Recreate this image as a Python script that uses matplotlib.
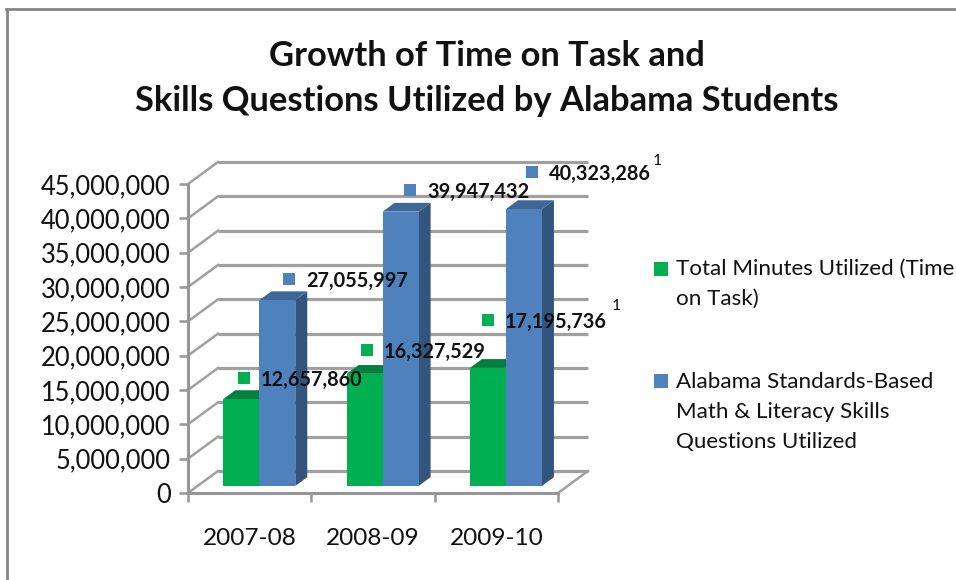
import matplotlib
matplotlib.use("Agg")
import matplotlib.pyplot as plt
from matplotlib.lines import Line2D
from matplotlib.patches import Polygon

plt.rcParams["font.family"] = ["Lato", "DejaVu Sans"]

W, H = 956, 580

# data
years = ["2007-08", "2008-09", "2009-10"]
minutes = [12657860, 16327529, 17195736]
questions = [27055997, 39947432, 40323286]
y_ticks = list(range(0, 45000001, 5000000))
legend_minutes = ["Total Minutes Utilized (Time", "on Task)"]
legend_questions = ["Alabama Standards-Based", "Math & Literacy Skills", "Questions Utilized"]

# colours
GREEN = "#00AF50"
GREEN_TOP = "#03803F"
BLUE = "#4F81BD"
BLUE_TOP = "#3F6797"
BLUE_SIDE = "#32547D"
GRID = "#A0A0A0"


def px_x(x):
    return x / W


def px_y(y):
    return 1 - y / H


fig = plt.figure(figsize=(W / 100, H / 100), dpi=100)
ax = fig.add_axes([188 / W, 1 - 493 / H, 370 / W, 309 / H])
ax.set_xlim(-0.5, 2.5)
ax.set_ylim(0, 45000000)
ax.patch.set_alpha(0)

# depth of the fake 3d box, in data units
depth_x = 30 / (370 / 3)
depth_y = 22 / (309 / 45000000)


def project(x, v, d):
    return (x + d * depth_x, v + d * depth_y)


# back wall and side wall gridlines
for t in y_ticks:
    back_l = project(-0.5, t, 1)
    back_r = project(2.5, t, 1)
    ax.plot([back_l[0], back_r[0]], [back_l[1], back_r[1]], color=GRID, lw=2.3,
            clip_on=False, zorder=1, solid_capstyle="butt")
    ax.plot([-0.5, back_l[0]], [t, back_l[1]], color=GRID, lw=1.8, clip_on=False, zorder=1)
ax.plot([2.5, project(2.5, 0, 1)[0]], [0, project(2.5, 0, 1)[1]], color=GRID, lw=1.8,
        clip_on=False, zorder=1)


def bar3d(x0, x1, v, front, top, side, z):
    d0, d1 = 0.32, 0.72
    face = [project(x0, 0, d0), project(x1, 0, d0), project(x1, v, d0), project(x0, v, d0)]
    roof = [project(x0, v, d0), project(x1, v, d0), project(x1, v, d1), project(x0, v, d1)]
    wall = [project(x1, 0, d0), project(x1, 0, d1), project(x1, v, d1), project(x1, v, d0)]
    for pts, col in ((wall, side), (roof, top), (face, front)):
        ax.add_patch(Polygon(pts, closed=True, facecolor=col, edgecolor="none",
                             clip_on=False, zorder=z))


bar_w = 36 / (370 / 3)
for i in range(len(years)):
    bar3d(i - bar_w, i, minutes[i], GREEN, GREEN_TOP, GREEN_TOP, 2)
    bar3d(i, i + bar_w, questions[i], BLUE, BLUE_TOP, BLUE_SIDE, 3)

# axes
for s in ("top", "right"):
    ax.spines[s].set_visible(False)
for s in ("left", "bottom"):
    ax.spines[s].set_color("#969696")
    ax.spines[s].set_linewidth(2.2)
ax.set_yticks(y_ticks)
ax.set_yticklabels([f"{t:,}" for t in y_ticks], fontsize=18.4, color="#111111")
ax.tick_params(axis="y", length=6.5, width=1.8, color="#969696", pad=6)
ax.set_xticks([-0.5, 0.5, 1.5, 2.5])
ax.set_xticklabels([])
ax.set_xticks(range(len(years)), minor=True)
ax.set_xticklabels(years, minor=True, fontsize=17.6, color="#111111")
ax.tick_params(axis="x", which="major", length=6.5, width=1.8, color="#969696")
ax.tick_params(axis="x", which="minor", length=0, pad=25.5)

# data labels, placed by hand in the original
label_marks = [(244, 378), (367, 350), (488, 320), (289, 279), (410, 190), (532, 172)]
label_vals = minutes + questions
label_cols = [GREEN] * 3 + [BLUE] * 3
for (mx, my), val, col in zip(label_marks, label_vals, label_cols):
    fig.add_artist(Line2D([px_x(mx)], [px_y(my)], marker="s", ms=8.5, color=col, mew=0, ls=""))
    fig.text(px_x(mx + 17), px_y(my), f"{val:,}", fontsize=14.3, fontweight="bold",
             color="#111111", ha="left", va="center_baseline", zorder=10)
fig.text(px_x(653), px_y(161), "1", fontsize=11.5, ha="left", va="center", color="#111111")
fig.text(px_x(612), px_y(306), "1", fontsize=11.5, ha="left", va="center", color="#111111")

# legend
fig.add_artist(Line2D([px_x(661)], [px_y(269)], marker="s", ms=10, color=GREEN, mew=0, ls=""))
fig.add_artist(Line2D([px_x(661)], [px_y(381)], marker="s", ms=10, color=BLUE, mew=0, ls=""))
for line, y in zip(legend_minutes, [269, 299]):
    fig.text(px_x(676), px_y(y), line, fontsize=16.1, va="center", color="#111111")
for line, y in zip(legend_questions, [382, 412, 442]):
    fig.text(px_x(676), px_y(y), line, fontsize=16.1, va="center", color="#111111")

# title
fig.text(px_x(487), px_y(56), "Growth of Time on Task and", fontsize=24.8, fontweight="bold",
         ha="center", va="center", color="#111111")
fig.text(px_x(487), px_y(101), "Skills Questions Utilized by Alabama Students", fontsize=24.8,
         fontweight="bold", ha="center", va="center", color="#111111")

# chart frame, only top and left are in the crop
fig.add_artist(Line2D([px_x(7), px_x(7)], [px_y(580), px_y(9)], color="#868686", lw=2))
fig.add_artist(Line2D([px_x(6), px_x(956)], [px_y(9), px_y(9)], color="#868686", lw=2))

fig.savefig("out.png", dpi=100)
